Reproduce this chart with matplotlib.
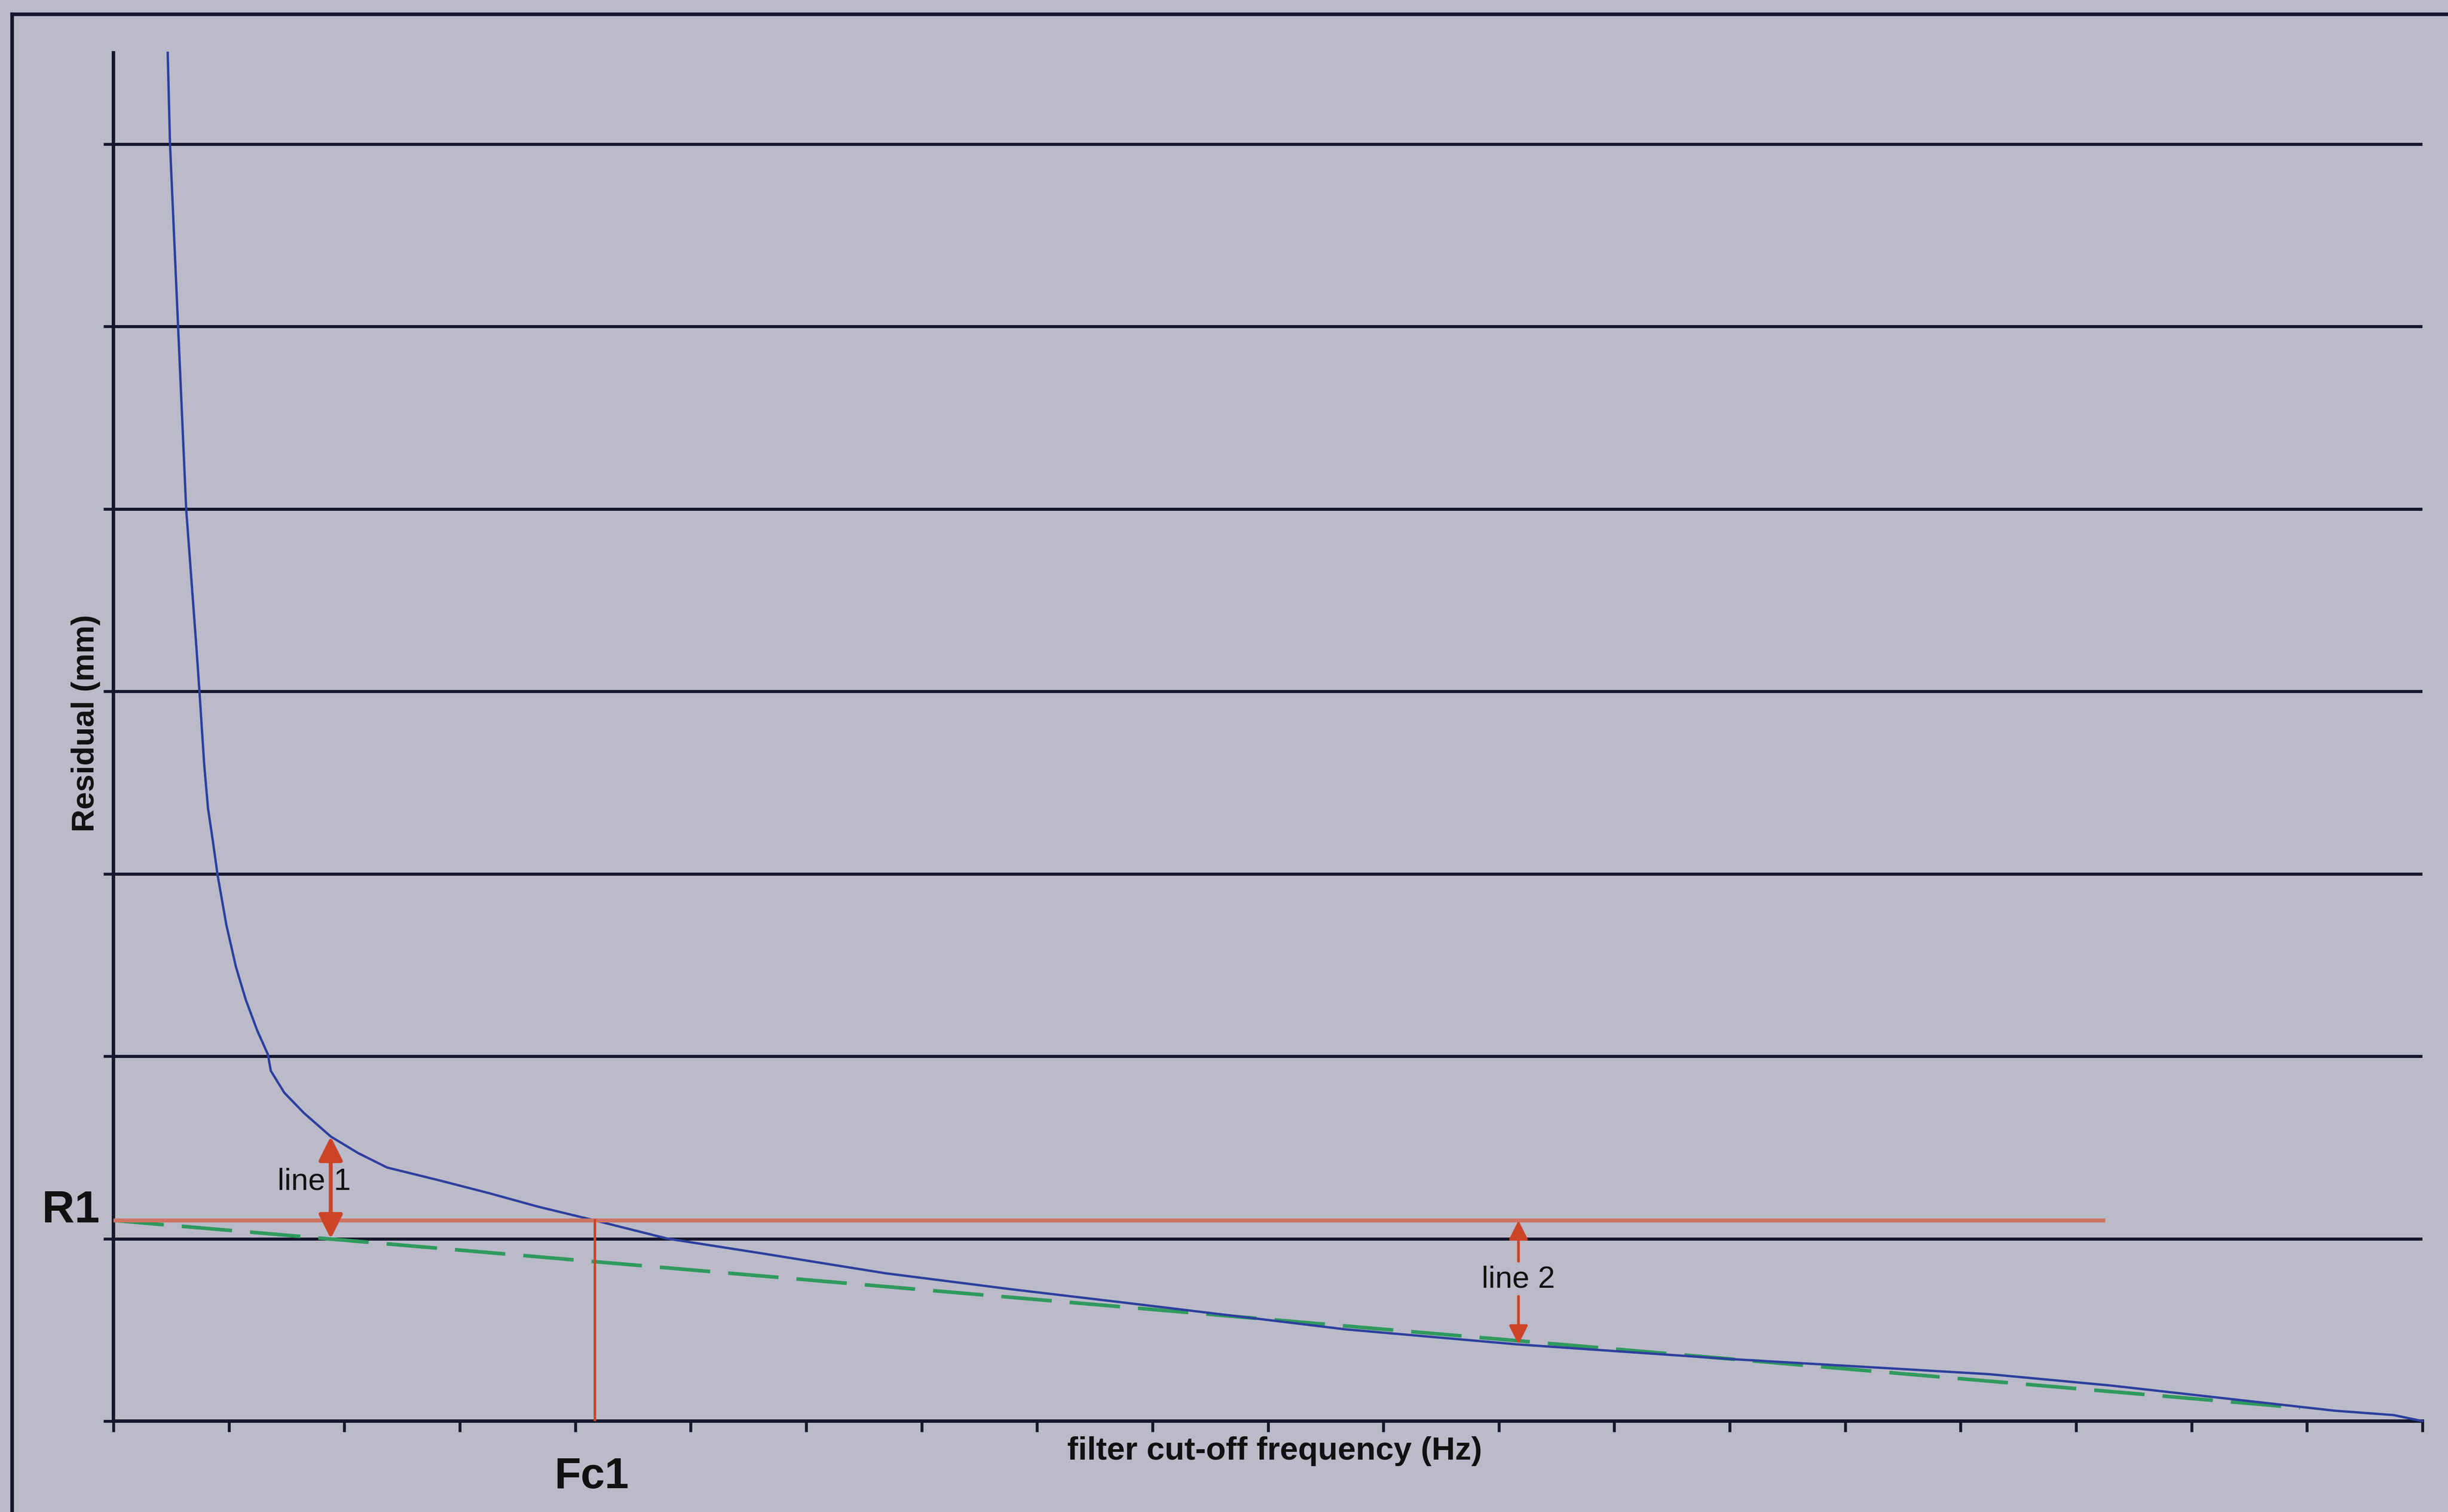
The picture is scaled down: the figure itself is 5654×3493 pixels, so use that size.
import matplotlib
matplotlib.use("Agg")
import matplotlib.pyplot as plt
from matplotlib.lines import Line2D

# Residual vs. filter cut-off frequency (residual analysis)
freq = [0.47, 0.49, 0.56, 0.63, 0.72, 0.746, 0.786, 0.819, 0.861, 0.903, 0.978,
        1.061, 1.146, 1.246, 1.338, 1.363, 1.48, 1.648, 1.882, 2.117, 2.37,
        2.82, 3.25, 3.68, 4.17, 4.80, 5.61, 6.69, 7.76, 8.84, 10.67, 12.17,
        14.01, 15.5, 16.25, 17.30, 19.24, 19.75, 20.0]
residual = [7.5, 7.0, 6.0, 5.0, 4.23, 3.99, 3.60, 3.36, 3.18, 2.99, 2.72,
            2.49, 2.31, 2.14, 2.01, 1.92, 1.80, 1.69, 1.56, 1.47, 1.39,
            1.32, 1.25, 1.175, 1.10, 1.0, 0.92, 0.81, 0.724, 0.643, 0.503, 0.42,
            0.34, 0.285, 0.257, 0.195, 0.057, 0.033, 0.0]

# Straight-line fit of the high-frequency (noise) part of the curve
fit_freq = [0.0, 18.94]
fit_resid = [1.10, 0.073]

R1 = 1.10          # residual at which the noise line meets the y-axis
FC1 = 4.17         # cut-off frequency where the curve reaches R1
R1_END = 17.25
LINE1_X = 1.882    # line 1: curve vs. fit line
LINE1_LOW, LINE1_HIGH = 1.0, 1.56
LINE2_X = 12.17    # line 2: R1 vs. curve
LINE2_LOW = 0.42

grid_levels = [1, 2, 3, 4, 5, 6, 7]
x_ticks = list(range(0, 21))
y_ticks = list(range(0, 8))

BG = "#babac9"
INK = "#16162c"
BLUE = "#2d3f9e"
GREEN = "#2f9a5e"
SALMON = "#cf7464"
RED = "#cc4428"
FONT = ["Liberation Sans", "DejaVu Sans"]

W, H, DPI = 5654, 3493, 300
fig = plt.figure(figsize=(W / DPI, H / DPI), dpi=DPI, facecolor=BG)
ax = fig.add_axes([262 / W, 1 - 3283 / H, (5595 - 262) / W, (3283 - 122) / H])
ax.set_facecolor(BG)

ax.set_xlim(0, 20)
ax.set_ylim(0, 7.5)

for level in grid_levels:
    ax.plot([0, 20], [level, level], color=INK, lw=1.7, solid_capstyle="butt", zorder=1)

ax.plot(fit_freq, fit_resid, color=GREEN, lw=2.0, dashes=(14, 5), zorder=3)
ax.plot(freq, residual, color=BLUE, lw=1.3, zorder=4, clip_on=False)

ax.plot([0, R1_END], [R1, R1], color=SALMON, lw=2.2, zorder=5, solid_capstyle="butt")
ax.plot([FC1, FC1], [0, R1], color=RED, lw=1.4, zorder=5)

ax.annotate("", xy=(LINE1_X, LINE1_HIGH), xytext=(LINE1_X, LINE1_LOW),
            arrowprops=dict(arrowstyle="<|-|>", color=RED, lw=2.2,
                            mutation_scale=28, shrinkA=0, shrinkB=0), zorder=6)
ax.text(1.74, 1.31, "line 1", fontsize=17, family=FONT, color="#111111",
        ha="center", va="center", zorder=7)

ax.annotate("", xy=(LINE2_X, R1), xytext=(LINE2_X, 0.876),
            arrowprops=dict(arrowstyle="-|>", color=RED, lw=1.5,
                            mutation_scale=22, shrinkA=0, shrinkB=0), zorder=6)
ax.annotate("", xy=(LINE2_X, LINE2_LOW), xytext=(LINE2_X, 0.684),
            arrowprops=dict(arrowstyle="-|>", color=RED, lw=1.5,
                            mutation_scale=22, shrinkA=0, shrinkB=0), zorder=6)
ax.text(LINE2_X, 0.775, "line 2", fontsize=17, family=FONT, color="#111111",
        ha="center", va="center", zorder=7)

# axes styling
for side in ("top", "right"):
    ax.spines[side].set_visible(False)
for side in ("left", "bottom"):
    ax.spines[side].set_color(INK)
    ax.spines[side].set_linewidth(1.9)
ax.set_xticks(x_ticks)
ax.set_yticks(y_ticks)
ax.set_xticklabels([])
ax.set_yticklabels([])
ax.tick_params(axis="x", direction="out", length=6, width=1.6, color=INK)
ax.tick_params(axis="y", direction="out", length=5.5, width=1.6, color=INK)

ax.set_xlabel("filter cut-off frequency (Hz)", fontsize=18, fontweight="bold",
              family=FONT, color="#111111")
ax.xaxis.set_label_coords(0.503, -0.022)
ax.xaxis.label.set_va("center")
ax.set_ylabel("Residual (mm)", fontsize=17.5, fontweight="bold",
              family=FONT, color="#111111")
ax.yaxis.set_label_coords(-0.012, 0.51)
ax.yaxis.label.set_va("center")

# point labels outside the plotting area
fig.text(164 / W, 1 - 2798 / H, "R1", fontsize=25, fontweight="bold", family=FONT,
         color="#111111", ha="center", va="center")
fig.text(1366 / W, 1 - 3412 / H, "Fc1", fontsize=24, fontweight="bold", family=FONT,
         color="#111111", ha="center", va="center")

# outer frame around the chart
fx, fy = 28 / W, 1 - 33 / H
fig.add_artist(Line2D([fx, fx], [0, fy], transform=fig.transFigure, color=INK, lw=2.0))
fig.add_artist(Line2D([fx, 1], [fy, fy], transform=fig.transFigure, color=INK, lw=2.0))

fig.savefig("out.png", dpi=DPI, facecolor=BG)
